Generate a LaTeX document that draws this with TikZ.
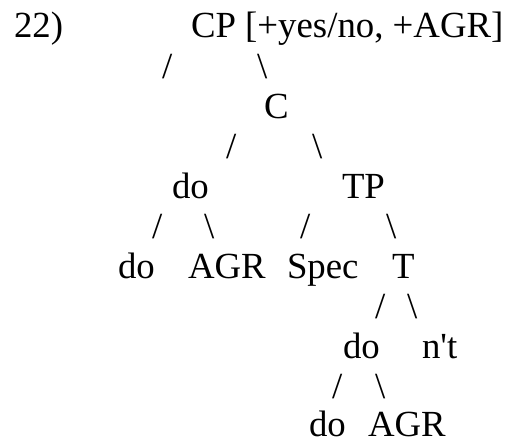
\documentclass[tikz,border=0pt]{standalone}
\usepackage{fontspec}
\setmainfont{Liberation Serif}
\tikzset{
  lbl/.style={anchor=base west, inner sep=0pt, outer sep=0pt, font=\fontsize{36.8}{40}\selectfont},
}
\newcommand{\fs}{/}
\newcommand{\bs}{\textbackslash}
\begin{document}
\begin{tikzpicture}[x=1pt,y=-1pt]
\useasboundingbox (0,0) rectangle (515,440);
% row 1
\node[lbl] (num) at (14,37) {22)};
\node[lbl] (cp) at (191,37) {CP [+yes/no, +AGR]};
% row 2
\node[lbl] (s1) at (162,78) {\fs};
\node[lbl] (s2) at (257,78) {\bs};
% row 3
\node[lbl] (c) at (264,118) {C};
% row 4
\node[lbl] (s3) at (226,158) {\fs};
\node[lbl] (s4) at (312,158) {\bs};
% row 5
\node[lbl] (do1) at (172,198) {do};
\node[lbl] (tp) at (342,198) {TP};
% row 6
\node[lbl] (s5) at (152,238) {\fs};
\node[lbl] (s6) at (204,238) {\bs};
\node[lbl] (s7) at (300,238) {\fs};
\node[lbl] (s8) at (386,238) {\bs};
% row 7
\node[lbl] (do2) at (118,278) {do};
\node[lbl] (agr1) at (188,278) {AGR};
\node[lbl] (spec) at (287,278) {Spec};
\node[lbl] (t) at (392,278) {T};
% row 8
\node[lbl] (s9) at (375,318) {\fs};
\node[lbl] (s10) at (407,318) {\bs};
% row 9
\node[lbl] (do3) at (343,358) {do};
\node[lbl] (nt) at (422,358) {n\textquotesingle t};
% row 10
\node[lbl] (s11) at (332,398) {\fs};
\node[lbl] (s12) at (375,398) {\bs};
% row 11
\node[lbl] (do4) at (309,436.5) {do};
\node[lbl] (agr2) at (368,436.5) {AGR};
\end{tikzpicture}
\end{document}
